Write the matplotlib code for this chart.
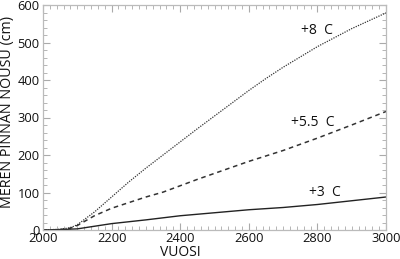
import matplotlib
matplotlib.use("Agg")
import matplotlib.pyplot as plt
from matplotlib.ticker import MultipleLocator

plt.rcParams['font.family'] = ['Open Sans', 'DejaVu Sans']

years = [2000, 2050, 2080, 2100, 2150, 2200, 2250, 2300, 2350, 2400, 2450, 2500,
         2600, 2650, 2700, 2800, 2900, 3000]
rise_8 = [0, 2, 6, 14, 48, 88, 128, 165, 200, 235, 270, 304,
          372, 404, 434, 489, 537, 579]
years_55 = [2000, 2050, 2080, 2100, 2150, 2200, 2300, 2350, 2450, 2600, 2700, 2800, 2900, 3000]
rise_55 = [0, 1, 5, 12, 38, 58, 88, 101, 135, 183, 212, 245, 280, 316]
years_3 = [2000, 2050, 2100, 2150, 2200, 2300, 2400, 2500, 2600, 2700, 2800, 2900, 3000]
rise_3 = [0, 1, 3, 10, 17, 27, 38, 46, 54, 60, 68, 78, 88]

labels = ["+8  C", "+5.5  C", "+3  C"]
label_pos = [(2800, 533), (2787, 288), (2822, 101)]

fig = plt.figure(figsize=(4.0, 2.59), dpi=100)
ax = fig.add_axes([43/400, 1-230/259, (386-43)/400, (230-5)/259])

ax.plot(years, rise_8, color='#333333', lw=0.9, linestyle=(0, (1, 1)))
ax.plot(years_55, rise_55, color='#333333', lw=1.1, linestyle=(0, (3, 2.5)))
ax.plot(years_3, rise_3, color='#222222', lw=1.0)

for t, (x, y) in zip(labels, label_pos):
    ax.text(x, y, t, fontsize=10, ha='center', va='center', color='#111111')

ax.set_xlim(2000, 3000)
ax.set_ylim(0, 600)
ax.xaxis.set_major_locator(MultipleLocator(200))
ax.xaxis.set_minor_locator(MultipleLocator(20))
ax.yaxis.set_major_locator(MultipleLocator(100))
ax.yaxis.set_minor_locator(MultipleLocator(20))
ax.tick_params(which='both', direction='in', top=True, right=True, color='#aaaaaa',
               labelsize=9.3, labelcolor='#111111')
ax.tick_params(axis='y', pad=2.5)
ax.tick_params(axis='x', pad=1.5)
ax.tick_params(which='major', length=5, width=0.8)
ax.tick_params(which='minor', length=3, width=0.6)
for s in ax.spines.values():
    s.set_color('#bbbbbb')
    s.set_linewidth(0.9)

fig.text(8/400, 1-112/259, "MEREN PINNAN NOUSU (cm)", fontsize=10.3, rotation=90,
         ha='center', va='center', color='#111111')
fig.text(180/400, 1-252.5/259, "VUOSI", fontsize=10, ha='center', va='center', color='#111111')

fig.savefig("out.png", dpi=100)
